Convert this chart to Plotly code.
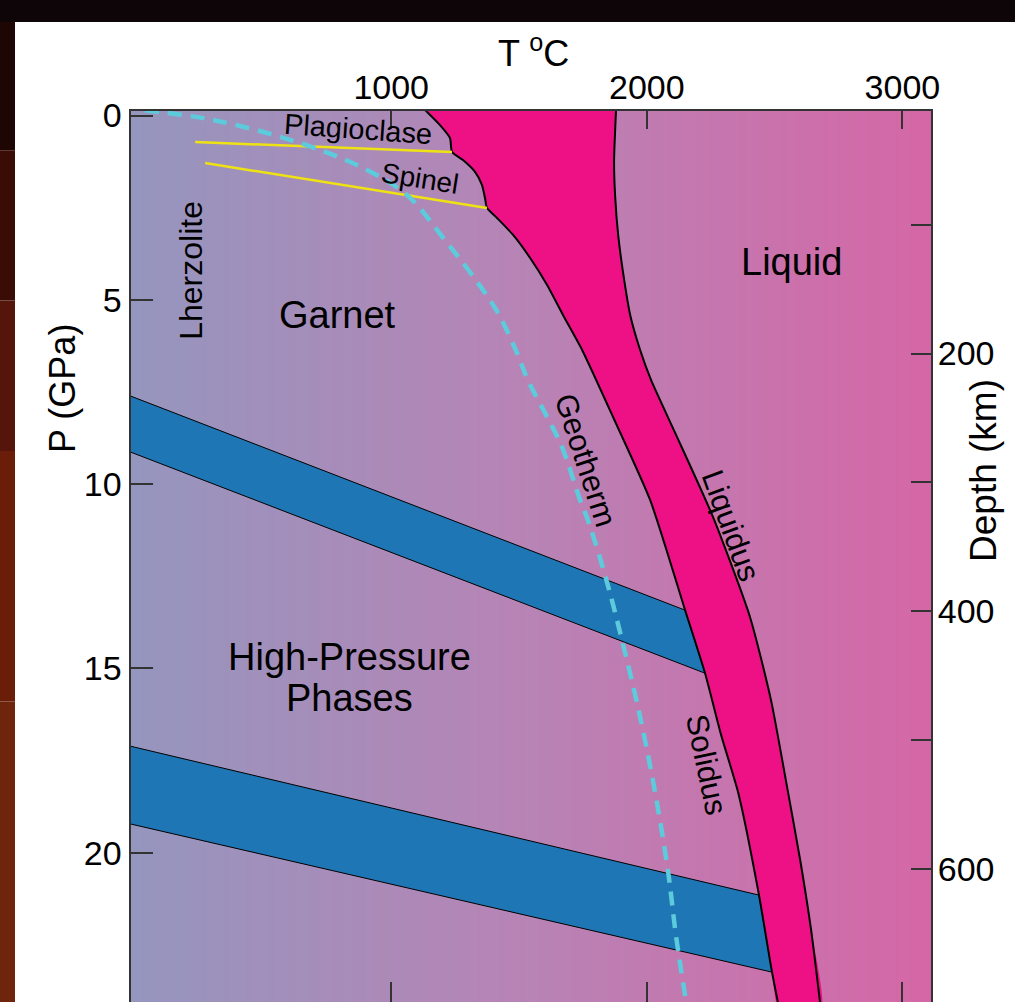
import plotly.graph_objects as go

FONT = "Liberation Sans, Arial, Helvetica, sans-serif"

# ---------------- data (T in deg C, P in GPa) ----------------
T_range = [-20, 3112]
P_range = [24.05, -0.136]          # reversed (pressure increases downward)
depth_range = [703.5, 11.3]        # km, right axis

T_ticks = [1000, 2000, 3000]
P_ticks = [0, 5, 10, 15, 20]
depth_ticks = [200, 400, 600]
depth_minor = [100, 300, 500]

solidus_T = [1125, 1191, 1230, 1238, 1281, 1328, 1355, 1367, 1375, 1414, 1477, 1543,
             1610, 1672, 1747, 1868, 2013, 2150, 2228, 2291, 2358, 2439, 2490, 2520]
solidus_P = [-0.2, 0.26, 0.61, 0.99, 1.21, 1.53, 1.88, 2.24, 2.51, 2.78, 3.24, 3.86,
             4.60, 5.41, 6.36, 8.18, 10.43, 13.42, 15.13, 16.81, 18.38, 21.15, 23.24, 24.3]

liquidus_T = [1880, 1872, 1876, 1888, 1907, 1935, 1974, 2017, 2111, 2259,
              2404, 2486, 2549, 2600, 2643, 2682]
liquidus_P = [-0.2, 1.26, 2.16, 3.24, 4.25, 5.41, 6.36, 7.18, 8.61, 10.89,
              13.61, 15.86, 18.22, 20.19, 22.10, 24.3]

geotherm_T = [36, 303, 631, 889, 1062, 1191, 1406, 1492, 1535, 1610, 1668, 1739, 1774,
              1845, 1903, 1974, 2033, 2084, 2115, 2160]
geotherm_P = [-0.14, 0.12, 0.72, 1.42, 2.16, 3.21, 5.22, 6.44, 7.18, 8.18, 8.99, 10.43,
              11.06, 12.68, 14.23, 16.32, 18.38, 20.55, 22.29, 24.3]

plag_spinel_T = [233, 1238]
plag_spinel_P = [0.72, 0.99]
spinel_garnet_T = [272, 1375]
spinel_garnet_P = [1.29, 2.51]

band1_top_T, band1_top_P = [-20, 2150], [7.61, 13.42]
band1_bot_T, band1_bot_P = [-20, 2228], [9.13, 15.13]
band2_top_T, band2_top_P = [-20, 2439], [17.11, 21.15]
band2_bot_T, band2_bot_P = [-20, 2490], [19.22, 23.24]

bg_T = [-20, 1546, 3112]
bg_level = [0, 0.5, 1]

# ---------------- styles ----------------
BAND_BLUE = "#1f76b4"
MELT_PINK = "#ee1186"
GEO_CYAN = "#5ccbdc"
YELLOW = "#efe214"
AX = "#333333"
SMOOTH = 0.6

fig = go.Figure()

# background gradient of the diagram
fig.add_trace(go.Heatmap(
    x=bg_T, y=[-0.5, 24.5], z=[bg_level, bg_level], zsmooth="best",
    colorscale=[[0, "#9596be"], [0.5, "#b883b5"], [1, "#d567a6"]],
    showscale=False, hoverinfo="skip"))


def band(tT, tP, bT, bP):
    return go.Scatter(x=tT + bT[::-1] + [tT[0]], y=tP + bP[::-1] + [tP[0]],
                      mode="lines", fill="toself", fillcolor=BAND_BLUE,
                      line=dict(color="black", width=1), hoverinfo="skip")


fig.add_trace(band(band1_top_T, band1_top_P, band1_bot_T, band1_bot_P))
fig.add_trace(band(band2_top_T, band2_top_P, band2_bot_T, band2_bot_P))

# partial-melt field between solidus and liquidus
fig.add_trace(go.Scatter(x=solidus_T + liquidus_T[::-1], y=solidus_P + liquidus_P[::-1],
                         mode="lines", fill="toself", fillcolor=MELT_PINK,
                         line=dict(width=0, shape="spline", smoothing=SMOOTH), hoverinfo="skip"))
fig.add_trace(go.Scatter(x=solidus_T, y=solidus_P, mode="lines",
                         line=dict(color="black", width=2, shape="spline", smoothing=SMOOTH),
                         hoverinfo="skip"))
fig.add_trace(go.Scatter(x=liquidus_T, y=liquidus_P, mode="lines",
                         line=dict(color="black", width=2, shape="spline", smoothing=SMOOTH),
                         hoverinfo="skip"))

# phase boundaries
fig.add_trace(go.Scatter(x=plag_spinel_T, y=plag_spinel_P, mode="lines",
                         line=dict(color=YELLOW, width=2.5), hoverinfo="skip"))
fig.add_trace(go.Scatter(x=spinel_garnet_T, y=spinel_garnet_P, mode="lines",
                         line=dict(color=YELLOW, width=2.5), hoverinfo="skip"))

# geotherm
fig.add_trace(go.Scatter(x=geotherm_T, y=geotherm_P, mode="lines",
                         line=dict(color=GEO_CYAN, width=4.5, dash="14px,9px", shape="spline"),
                         hoverinfo="skip"))

# helper traces so the secondary axes are drawn
fig.add_trace(go.Scatter(x=[T_ticks[0]], y=[P_ticks[1]], xaxis="x2", yaxis="y",
                         mode="markers", marker=dict(opacity=0), hoverinfo="skip"))
fig.add_trace(go.Scatter(x=[T_ticks[0]], y=[depth_ticks[1]], xaxis="x", yaxis="y2",
                         mode="markers", marker=dict(opacity=0), hoverinfo="skip"))

xdom = [130.5 / 1015, 931 / 1015]
ydom = [0, 891.5 / 1002]

common = dict(showgrid=False, zeroline=False, fixedrange=True, automargin=False,
              ticks="inside", tickcolor=AX, tickwidth=1.5,
              tickfont=dict(family=FONT, size=34, color="black"))

fig.update_layout(
    width=1015, height=1002,
    margin=dict(l=0, r=0, t=0, b=0, pad=0),
    paper_bgcolor="white", plot_bgcolor="white",
    showlegend=False,
    font=dict(family=FONT, color="black"),
    xaxis=dict(domain=xdom, range=T_range, side="top", anchor="y",
               showline=True, linecolor=AX, linewidth=2, ticklen=18,
               tickvals=T_ticks, ticklabelstandoff=-4, **common),
    xaxis2=dict(domain=xdom, range=T_range, side="bottom", anchor="y", overlaying="x",
                showline=False, ticklen=20, tickvals=T_ticks, showticklabels=False, **common),
    yaxis=dict(domain=ydom, range=P_range, anchor="x", showline=True, linecolor=AX,
               linewidth=2, ticklen=22, tickvals=P_ticks, **common),
    yaxis2=dict(domain=ydom, range=depth_range, anchor="x", overlaying="y", side="right",
                showline=True, linecolor=AX, linewidth=2, ticklen=20,
                tickvals=depth_ticks, ticklabelstandoff=-2,
                minor=dict(tickvals=depth_minor, ticks="inside", ticklen=20,
                           tickcolor=AX, tickwidth=1.5),
                **common),
)

# frame around the figure (dark page background)
fig.add_shape(type="rect", xref="paper", yref="paper", x0=0, x1=1, y0=980 / 1002, y1=1,
              fillcolor="#0d0507", line_width=0, layer="above")
strip = [(0.85, 0.978, "#1e0605"), (0.70, 0.85, "#3a0c06"), (0.55, 0.70, "#55150a"),
         (0.30, 0.55, "#6a1e0a"), (0.0, 0.30, "#6e250c")]
for y0, y1, c in strip:
    fig.add_shape(type="rect", xref="paper", yref="paper", x0=0, x1=15 / 1015, y0=y0, y1=y1,
                  fillcolor=c, line_width=0, layer="above")

# axis titles
fig.add_annotation(text="T <sup>o</sup>C", xref="paper", yref="paper", x=533 / 1015,
                   y=(1002 - 51) / 1002, showarrow=False, font=dict(size=36),
                   xanchor="center", yanchor="middle")
fig.add_annotation(text="P (GPa)", xref="paper", yref="paper", x=62 / 1015,
                   y=(1002 - 389) / 1002, showarrow=False, font=dict(size=36), textangle=-90,
                   xanchor="center", yanchor="middle")
fig.add_annotation(text="Depth (km)", xref="paper", yref="paper", x=983 / 1015,
                   y=(1002 - 471) / 1002, showarrow=False, font=dict(size=37), textangle=-90,
                   xanchor="center", yanchor="middle")

# field labels
labels = [
    ("Lherzolite", 216, 4.19, 32, -90),
    ("Garnet", 788, 5.41, 38, 0),
    ("Liquid", 2565, 3.97, 38, 0),
    ("High-Pressure", 835, 14.69, 38, 0),
    ("Phases", 835, 15.80, 38, 0),
    ("Geotherm", 1762, 9.35, 31, 72),
    ("Liquidus", 2330, 11.11, 31, 70),
    ("Solidus", 2232, 17.62, 31, 78),
    ("Plagioclase", 870, 0.37, 29, 4),
    ("Spinel", 1113, 1.70, 28, 9),
]
for text, t, p, size, ang in labels:
    fig.add_annotation(text=text, x=t, y=p, xref="x", yref="y", showarrow=False,
                       font=dict(size=size), textangle=ang,
                       xanchor="center", yanchor="middle")

fig.write_html("out.html", config={"displayModeBar": False},
               post_script="document.body.style.margin='0';document.body.style.padding='0';")
